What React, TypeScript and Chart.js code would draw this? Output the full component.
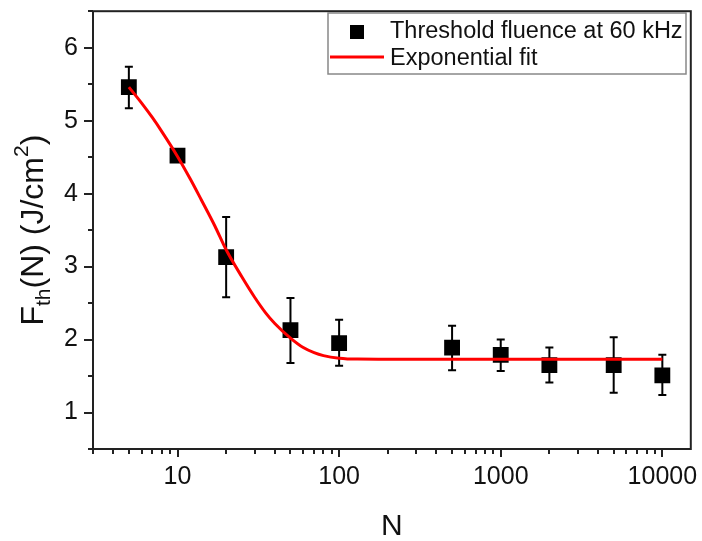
import React, { useEffect, useRef } from "react";
import { Chart, registerables } from "chart.js";

Chart.register(...registerables);

const N_VALUES = [5, 10, 20, 50, 100, 500, 1000, 2000, 5000, 10000];
const F_TH = [5.46, 4.52, 3.13, 2.13, 1.95, 1.89, 1.79, 1.65, 1.65, 1.51];
const ERR_LOW = [5.17, 4.47, 2.58, 1.68, 1.64, 1.58, 1.57, 1.41, 1.27, 1.24];
const ERR_HIGH = [5.74, 4.58, 3.68, 2.57, 2.27, 2.19, 2.0, 1.89, 2.03, 1.79];

const FIT_N = [5, 6, 7, 8, 10, 12, 14, 17, 20, 25, 30, 35, 40, 50, 60, 70, 80, 100, 130, 200, 10000];
const FIT_F = [5.46, 5.24, 5.04, 4.85, 4.51, 4.2, 3.92, 3.56, 3.23, 2.86, 2.58, 2.37, 2.22, 2.02, 1.89, 1.82, 1.78, 1.745, 1.732, 1.73, 1.73];

const X_TICKS = [10, 100, 1000, 10000];
const Y_TICKS = [1, 2, 3, 4, 5, 6];

const X_TITLE = "N";
const SERIES_LABEL = "Threshold fluence at 60 kHz";
const FIT_LABEL = "Exponential fit";

const FONT = "'Liberation Sans', Arial, sans-serif";

const customPlugin = {
  id: "customDecor",
  beforeDatasetsDraw(chart: any) {
    const ctx = chart.ctx;
    const xs = chart.scales.x;
    const ys = chart.scales.y;
    ctx.save();
    ctx.strokeStyle = "#000";
    ctx.lineWidth = 2;
    for (let i = 0; i < N_VALUES.length; i++) {
      const px = xs.getPixelForValue(N_VALUES[i]);
      const lo = ys.getPixelForValue(ERR_LOW[i]);
      const hi = ys.getPixelForValue(ERR_HIGH[i]);
      ctx.beginPath();
      ctx.moveTo(px, lo);
      ctx.lineTo(px, hi);
      ctx.moveTo(px - 4, lo);
      ctx.lineTo(px + 4, lo);
      ctx.moveTo(px - 4, hi);
      ctx.lineTo(px + 4, hi);
      ctx.stroke();
    }
    ctx.restore();
  },
  afterDraw(chart: any) {
    const ctx = chart.ctx;
    const a = chart.chartArea;
    const xs = chart.scales.x;
    const ys = chart.scales.y;
    ctx.save();
    // frame
    ctx.strokeStyle = "#222";
    ctx.lineWidth = 2;
    ctx.strokeRect(a.left, a.top, a.right - a.left, a.bottom - a.top);
    // y ticks
    ctx.beginPath();
    for (let v = ys.min; v <= ys.max + 1e-9; v += 0.5) {
      const py = Math.round(ys.getPixelForValue(v));
      const len = Math.abs(v - Math.round(v)) < 1e-6 ? 9 : 5;
      ctx.moveTo(a.left - len, py);
      ctx.lineTo(a.left, py);
    }
    // x ticks
    for (let k = 0; k <= 4; k++) {
      for (let m = 1; m <= 9; m++) {
        const v = m * Math.pow(10, k);
        if (v < xs.min - 1e-9 || v > xs.max + 1e-9) continue;
        const px = Math.round(xs.getPixelForValue(v));
        const len = m === 1 ? 8 : 5;
        ctx.moveTo(px, a.bottom);
        ctx.lineTo(px, a.bottom + len);
      }
    }
    ctx.stroke();

    // x title
    ctx.fillStyle = "#111";
    ctx.textAlign = "center";
    ctx.textBaseline = "alphabetic";
    ctx.font = `30px ${FONT}`;
    ctx.fillText(X_TITLE, (a.left + a.right) / 2, 535);

    // y title with sub/superscript
    const parts = [
      { t: "F", size: 32, dy: 0 },
      { t: "th", size: 21, dy: 7 },
      { t: "(N) (J/cm", size: 32, dy: 0 },
      { t: "2", size: 21, dy: -15 },
      { t: ")", size: 32, dy: 0 },
    ];
    let total = 0;
    const widths: number[] = [];
    for (const p of parts) {
      ctx.font = `${p.size}px ${FONT}`;
      const w = ctx.measureText(p.t).width;
      widths.push(w);
      total += w;
    }
    ctx.translate(43, (a.top + a.bottom) / 2);
    ctx.rotate(-Math.PI / 2);
    ctx.textAlign = "left";
    let cx = -total / 2;
    parts.forEach((p, i) => {
      ctx.font = `${p.size}px ${FONT}`;
      ctx.fillText(p.t, cx, p.dy);
      cx += widths[i];
    });
    ctx.setTransform(1, 0, 0, 1, 0, 0);

    // legend
    const lx = 328, ly = 13, lw = 358, lh = 61;
    ctx.fillStyle = "#fff";
    ctx.fillRect(lx, ly, lw, lh);
    ctx.strokeStyle = "#888";
    ctx.lineWidth = 1.5;
    ctx.strokeRect(lx, ly, lw, lh);
    ctx.fillStyle = "#000";
    ctx.fillRect(357 - 7, 32 - 7, 14, 14);
    ctx.strokeStyle = "#ff0000";
    ctx.lineWidth = 3;
    ctx.beginPath();
    ctx.moveTo(330, 57);
    ctx.lineTo(384, 57);
    ctx.stroke();
    ctx.fillStyle = "#111";
    ctx.font = `23.5px ${FONT}`;
    ctx.textAlign = "left";
    ctx.fillText(chart.data.datasets[1].label, 390, 38);
    ctx.fillText(chart.data.datasets[0].label, 390, 65);
    ctx.restore();
  },
};

export default function App() {
  const ref = useRef<HTMLCanvasElement>(null);
  useEffect(() => {
    const canvas = ref.current!;
    const chart = new Chart(canvas, {
      type: "scatter",
      data: {
        datasets: [
          {
            type: "line",
            label: FIT_LABEL,
            data: FIT_N.map((n, i) => ({ x: n, y: FIT_F[i] })),
            borderColor: "#ff0000",
            borderWidth: 3,
            pointRadius: 0,
            cubicInterpolationMode: "monotone",
            fill: false,
            order: 0,
          },
          {
            label: SERIES_LABEL,
            data: N_VALUES.map((n, i) => ({ x: n, y: F_TH[i] })),
            pointStyle: "rect",
            pointRadius: 11.2,
            backgroundColor: "#000",
            borderColor: "#000",
            borderWidth: 0,
            showLine: false,
            order: 1,
          },
        ] as any,
      },
      options: {
        animation: false,
        responsive: false,
        layout: { padding: { top: 10, right: 10, left: 0, bottom: 0 } },
        plugins: { legend: { display: false }, tooltip: { enabled: false } },
        scales: {
          x: {
            type: "logarithmic",
            min: 3,
            max: 15000,
            grid: { display: false, drawTicks: false },
            border: { display: false },
            ticks: {
              font: { size: 25, family: FONT },
              color: "#111",
              padding: 13,
              autoSkip: false,
              maxRotation: 0,
              callback: (v: any) => String(v),
            },
            afterBuildTicks: (s: any) => {
              s.ticks = X_TICKS.map((v) => ({ value: v }));
            },
            afterFit: (s: any) => {
              s.height = 92;
              s.paddingLeft = 0;
              s.paddingRight = 0;
              s.paddingTop = 0;
              s.paddingBottom = 0;
            },
          },
          y: {
            type: "linear",
            min: 0.5,
            max: 6.5,
            grid: { display: false, drawTicks: false },
            border: { display: false },
            ticks: {
              font: { size: 25, family: FONT },
              color: "#111",
              padding: 15,
              callback: (v: any) => String(v),
            },
            afterBuildTicks: (s: any) => {
              s.ticks = Y_TICKS.map((v) => ({ value: v }));
            },
            afterFit: (s: any) => {
              s.width = 93;
              s.paddingTop = 0;
              s.paddingBottom = 0;
              s.paddingLeft = 0;
              s.paddingRight = 0;
            },
          },
        },
      } as any,
      plugins: [customPlugin],
    });
    return () => chart.destroy();
  }, []);
  return (
    <div style={{ position: "fixed", left: 0, top: 0, width: 702, height: 541, background: "#fff" }}>
      <canvas ref={ref} width={702} height={541} />
    </div>
  );
}
